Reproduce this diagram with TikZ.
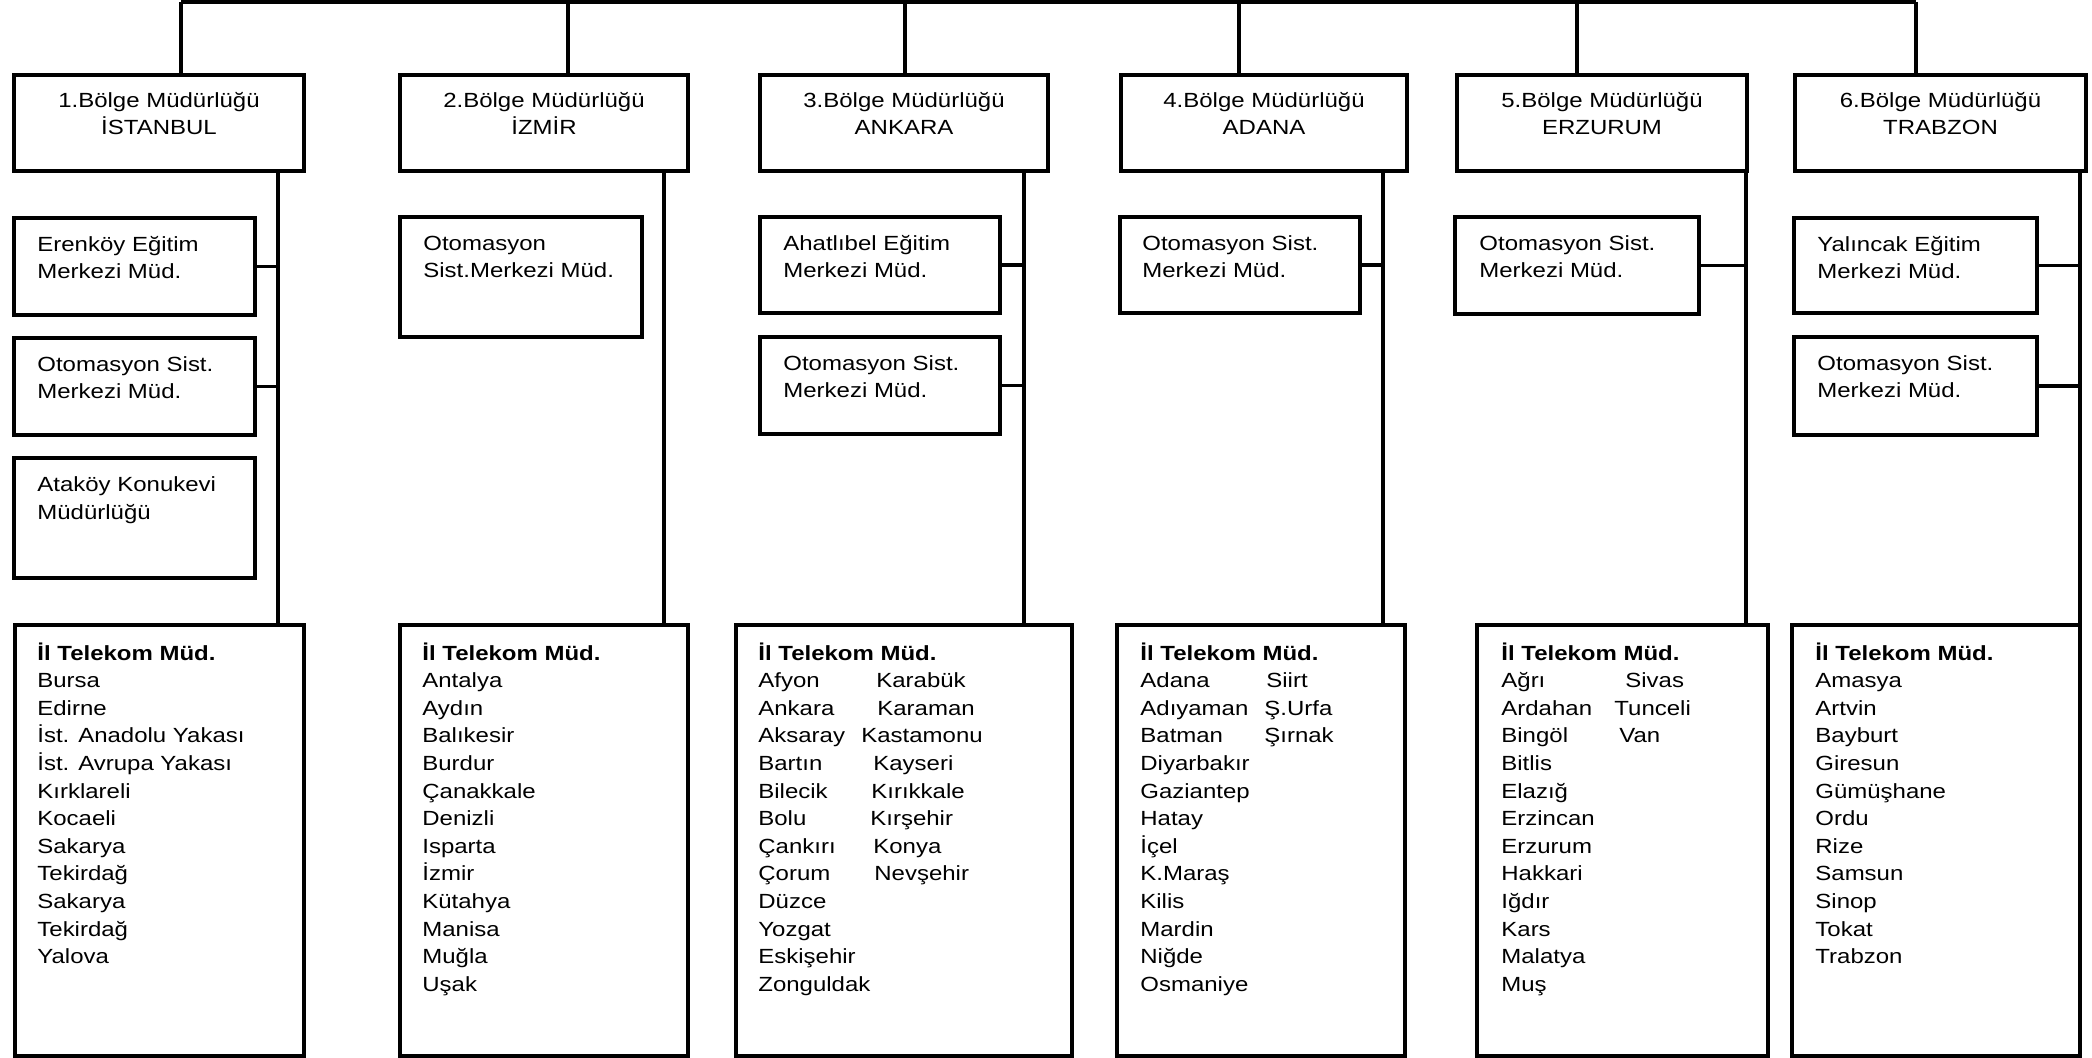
\documentclass[tikz,border=0pt]{standalone}
\usepackage{fontspec}
\setmainfont{Liberation Sans}[FakeStretch=1.17]
\usetikzlibrary{calc}

% rectangular frame given by its top-left and bottom-right corners (in px units)
\newcommand\orgbox[5]{%
  \node[box, anchor=north west,
        minimum width={(#4-#2)*0.5pt}, minimum height={(#5-#3)*0.5pt}]
        (#1) at (#2,#3) {};}

\begin{document}
\begin{tikzpicture}[x=0.5pt, y=-0.5pt,
  box/.style={draw, line width=1.65pt, inner sep=0pt, outer sep=0pt},
  link/.style={line width=1.65pt},
  head/.style={font=\fontsize{10.25pt}{13.5pt}\selectfont, inner sep=0pt, anchor=base},
  unit/.style={font=\fontsize{10.25pt}{13.5pt}\selectfont, inner sep=0pt, anchor=base west},
  list/.style={font=\fontsize{10.25pt}{13.8pt}\selectfont, inner sep=0pt, anchor=base west}]

\useasboundingbox[fill=white] (0,0) rectangle (2092,1058);

% ---------- regional directorates ----------
\orgbox{b1}{14}{75}{304}{171}
\orgbox{b2}{400}{75}{688}{171}
\orgbox{b3}{760}{75}{1048}{171}
\orgbox{b4}{1121}{75}{1407}{171}
\orgbox{b5}{1457}{75}{1747}{171}
\orgbox{b6}{1795}{75}{2086}{171}

\node[head] (b1t) at ($(b1.north)+(0,33)$) {\begin{tabular}[t]{@{}c@{}}1.Bölge Müdürlüğü\\İSTANBUL\end{tabular}};
\node[head] (b2t) at ($(b2.north)+(0,33)$) {\begin{tabular}[t]{@{}c@{}}2.Bölge Müdürlüğü\\İZMİR\end{tabular}};
\node[head] (b3t) at ($(b3.north)+(0,33)$) {\begin{tabular}[t]{@{}c@{}}3.Bölge Müdürlüğü\\ANKARA\end{tabular}};
\node[head] (b4t) at ($(b4.north)+(0,33)$) {\begin{tabular}[t]{@{}c@{}}4.Bölge Müdürlüğü\\ADANA\end{tabular}};
\node[head] (b5t) at ($(b5.north)+(0,33)$) {\begin{tabular}[t]{@{}c@{}}5.Bölge Müdürlüğü\\ERZURUM\end{tabular}};
\node[head] (b6t) at ($(b6.north)+(0,33)$) {\begin{tabular}[t]{@{}c@{}}6.Bölge Müdürlüğü\\TRABZON\end{tabular}};

% ---------- top bus ----------
\coordinate (t1) at (181,2);
\coordinate (t2) at (568,2);
\coordinate (t3) at (905,2);
\coordinate (t4) at (1239,2);
\coordinate (t5) at (1577,2);
\coordinate (t6) at (1916,2);
\draw[link] (t1) -- (t6);
\foreach \i in {1,...,6} { \draw[link] (t\i) -- (t\i |- b\i.north); }

% ---------- attached units ----------
\orgbox{s11}{14}{218}{255}{315}
\orgbox{s12}{14}{338}{255}{435}
\orgbox{s13}{14}{458}{255}{578}
\orgbox{s21}{400}{217}{642}{337}
\orgbox{s31}{760}{217}{1000}{313}
\orgbox{s32}{760}{337}{1000}{434}
\orgbox{s41}{1120}{217}{1360}{313}
\orgbox{s51}{1455}{217}{1699}{314}
\orgbox{s61}{1794}{218}{2037}{313}
\orgbox{s62}{1794}{337}{2037}{435}

\node[unit] (s11t) at ($(s11.north west)+(23,34)$) {\begin{tabular}[t]{@{}l@{}}Erenköy Eğitim\\Merkezi Müd.\end{tabular}};
\node[unit] (s12t) at ($(s12.north west)+(23,34)$) {\begin{tabular}[t]{@{}l@{}}Otomasyon Sist.\\Merkezi Müd.\end{tabular}};
\node[unit] (s13t) at ($(s13.north west)+(23,34)$) {\begin{tabular}[t]{@{}l@{}}Ataköy Konukevi\\Müdürlüğü\end{tabular}};
\node[unit] (s21t) at ($(s21.north west)+(23,34)$) {\begin{tabular}[t]{@{}l@{}}Otomasyon\\Sist.Merkezi Müd.\end{tabular}};
\node[unit] (s31t) at ($(s31.north west)+(23,34)$) {\begin{tabular}[t]{@{}l@{}}Ahatlıbel Eğitim\\Merkezi Müd.\end{tabular}};
\node[unit] (s32t) at ($(s32.north west)+(23,34)$) {\begin{tabular}[t]{@{}l@{}}Otomasyon Sist.\\Merkezi Müd.\end{tabular}};
\node[unit] (s41t) at ($(s41.north west)+(22,34)$) {\begin{tabular}[t]{@{}l@{}}Otomasyon Sist.\\Merkezi Müd.\end{tabular}};
\node[unit] (s51t) at ($(s51.north west)+(24,34)$) {\begin{tabular}[t]{@{}l@{}}Otomasyon Sist.\\Merkezi Müd.\end{tabular}};
\node[unit] (s61t) at ($(s61.north west)+(23,34)$) {\begin{tabular}[t]{@{}l@{}}Yalıncak Eğitim\\Merkezi Müd.\end{tabular}};
\node[unit] (s62t) at ($(s62.north west)+(23,34)$) {\begin{tabular}[t]{@{}l@{}}Otomasyon Sist.\\Merkezi Müd.\end{tabular}};

% ---------- provincial directorates ----------
\orgbox{i1}{15}{625}{304}{1056}
\orgbox{i2}{400}{625}{688}{1056}
\orgbox{i3}{736}{625}{1072}{1056}
\orgbox{i4}{1117}{625}{1405}{1056}
\orgbox{i5}{1477}{625}{1768}{1056}
\orgbox{i6}{1792}{625}{2080}{1056}

\node[list] (i1t) at ($(i1.north west)+(22,35)$) {\begin{tabular}[t]{@{}l@{}}
\textbf{İl Telekom Müd.}\\ Bursa\\ Edirne\\ İst. Anadolu Yakası\\ İst. Avrupa Yakası\\
Kırklareli\\ Kocaeli\\ Sakarya\\ Tekirdağ\\ Sakarya\\ Tekirdağ\\ Yalova\end{tabular}};

\node[list] (i2t) at ($(i2.north west)+(22,35)$) {\begin{tabular}[t]{@{}l@{}}
\textbf{İl Telekom Müd.}\\ Antalya\\ Aydın\\ Balıkesir\\ Burdur\\ Çanakkale\\ Denizli\\
Isparta\\ İzmir\\ Kütahya\\ Manisa\\ Muğla\\ Uşak\end{tabular}};

\node[list] (i3t) at ($(i3.north west)+(22,35)$) {\begin{tabular}[t]{@{}l@{}}
\textbf{İl Telekom Müd.}\\
\makebox[59pt][l]{Afyon}Karabük\\
\makebox[59.5pt][l]{Ankara}Karaman\\
\makebox[51.5pt][l]{Aksaray}Kastamonu\\
\makebox[57.5pt][l]{Bartın}Kayseri\\
\makebox[56.5pt][l]{Bilecik}Kırıkkale\\
\makebox[56pt][l]{Bolu}Kırşehir\\
\makebox[57.5pt][l]{Çankırı}Konya\\
\makebox[58pt][l]{Çorum}Nevşehir\\
Düzce\\ Yozgat\\ Eskişehir\\ Zonguldak\end{tabular}};

\node[list] (i4t) at ($(i4.north west)+(23,35)$) {\begin{tabular}[t]{@{}l@{}}
\textbf{İl Telekom Müd.}\\
\makebox[63pt][l]{Adana}Siirt\\
\makebox[62pt][l]{Adıyaman}Ş.Urfa\\
\makebox[62pt][l]{Batman}Şırnak\\
Diyarbakır\\ Gaziantep\\ Hatay\\ İçel\\ K.Maraş\\ Kilis\\ Mardin\\ Niğde\\ Osmaniye\end{tabular}};

\node[list] (i5t) at ($(i5.north west)+(24,35)$) {\begin{tabular}[t]{@{}l@{}}
\textbf{İl Telekom Müd.}\\
\makebox[62pt][l]{Ağrı}Sivas\\
\makebox[56.5pt][l]{Ardahan}Tunceli\\
\makebox[59pt][l]{Bingöl}Van\\
Bitlis\\ Elazığ\\ Erzincan\\ Erzurum\\ Hakkari\\ Iğdır\\ Kars\\ Malatya\\ Muş\end{tabular}};

\node[list] (i6t) at ($(i6.north west)+(23,35)$) {\begin{tabular}[t]{@{}l@{}}
\textbf{İl Telekom Müd.}\\ Amasya\\ Artvin\\ Bayburt\\ Giresun\\ Gümüşhane\\ Ordu\\
Rize\\ Samsun\\ Sinop\\ Tokat\\ Trabzon\end{tabular}};

% ---------- vertical trunks ----------
\coordinate (k1) at (278,171);
\coordinate (k2) at (664,171);
\coordinate (k3) at (1024,171);
\coordinate (k4) at (1383,171);
\coordinate (k5) at (1746,171);
\coordinate (k6) at (2080,171);
\foreach \i in {1,...,6} { \draw[link] (k\i) -- (k\i |- i\i.north); }

% ---------- branches to the attached units ----------
\draw[link] (s11.east) -- (s11.east -| k1);
\draw[link] (s12.east) -- (s12.east -| k1);
\draw[link] ($(s13.north east)+(0,47)$) -- ($(s13.north east)+(0,47)$ -| k1);
\draw[link] ($(s21.north east)+(0,72)$) -- ($(s21.north east)+(0,72)$ -| k2);
\draw[link] (s31.east) -- (s31.east -| k3);
\draw[link] (s32.east) -- (s32.east -| k3);
\draw[link] (s41.east) -- (s41.east -| k4);
\draw[link] (s51.east) -- (s51.east -| k5);
\draw[link] (s61.east) -- (s61.east -| k6);
\draw[link] (s62.east) -- (s62.east -| k6);
\end{tikzpicture}
\end{document}
